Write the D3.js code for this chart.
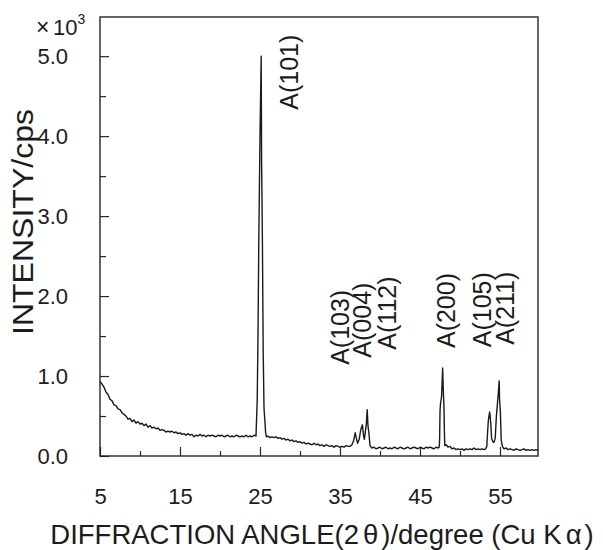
<!DOCTYPE html>
<html>
<head>
<meta charset="utf-8">
<script src="https://cdn.jsdelivr.net/npm/d3@7"></script>
<style>
  body { margin: 0; background: #fff; }
  svg text { font-family: "Liberation Sans", Arial, sans-serif; fill: #1c1c1c; }
</style>
</head>
<body>
<div id="chart"></div>
<script>
// 2θ (degree) and intensity (x10^3 cps)
const scan = [
  [5.00, 0.93], [5.25, 0.90], [5.50, 0.86], [5.75, 0.80], [6.00, 0.77], [6.25, 0.71], [6.50, 0.69], [6.75, 0.64],
  [7.00, 0.63], [7.25, 0.59], [7.50, 0.58], [7.75, 0.54], [8.00, 0.52], [8.25, 0.50], [8.50, 0.46], [8.75, 0.47],
  [9.00, 0.43], [9.25, 0.45], [9.50, 0.41], [9.75, 0.43], [10.00, 0.40], [10.25, 0.41], [10.50, 0.38], [10.75, 0.40],
  [11.00, 0.36], [11.25, 0.38], [11.50, 0.35], [11.75, 0.36], [12.00, 0.34], [12.25, 0.35], [12.50, 0.32], [12.75, 0.33],
  [13.00, 0.32], [13.25, 0.30], [13.50, 0.31], [13.75, 0.30], [14.00, 0.31], [14.25, 0.29], [14.50, 0.30], [14.75, 0.28],
  [15.00, 0.29], [15.25, 0.27], [15.50, 0.28], [15.75, 0.26], [16.00, 0.28], [16.25, 0.26], [16.50, 0.27], [16.75, 0.24],
  [17.00, 0.26], [17.25, 0.25], [17.50, 0.27], [17.75, 0.25], [18.00, 0.26], [18.25, 0.24], [18.50, 0.26], [18.75, 0.25],
  [19.00, 0.26], [19.25, 0.25], [19.50, 0.24], [19.75, 0.26], [20.00, 0.25], [20.25, 0.26], [20.50, 0.24], [20.75, 0.25],
  [21.00, 0.26], [21.25, 0.24], [21.50, 0.25], [21.75, 0.24], [22.00, 0.26], [22.25, 0.25], [22.50, 0.24], [22.75, 0.25],
  [23.00, 0.24], [23.25, 0.26], [23.50, 0.24], [23.75, 0.25], [24.00, 0.24], [24.25, 0.26], [24.50, 0.25],
  // A(101)
  [24.60, 0.55], [24.65, 0.68], [24.75, 1.50], [24.85, 2.70], [25.00, 4.00], [25.15, 5.00], [25.20, 3.70], [25.30, 2.70],
  [25.40, 1.30], [25.50, 0.60], [25.60, 0.45], [25.70, 0.30], [25.80, 0.24],
  [26.00, 0.25], [26.25, 0.23], [26.50, 0.24], [26.75, 0.23], [27.00, 0.24], [27.25, 0.22], [27.50, 0.23], [27.75, 0.21],
  [28.00, 0.22], [28.25, 0.20], [28.50, 0.21], [28.75, 0.19], [29.00, 0.20], [29.25, 0.18], [29.50, 0.19], [29.75, 0.17],
  [30.00, 0.18], [30.25, 0.16], [30.50, 0.17], [30.75, 0.15], [31.00, 0.16], [31.25, 0.15], [31.50, 0.14], [31.75, 0.16],
  [32.00, 0.14], [32.25, 0.15], [32.50, 0.13], [32.75, 0.14], [33.00, 0.12], [33.25, 0.14], [33.50, 0.13], [33.75, 0.12],
  [34.00, 0.13], [34.25, 0.11], [34.50, 0.13], [34.75, 0.12], [35.00, 0.11], [35.25, 0.12], [35.50, 0.11], [35.75, 0.13],
  [36.00, 0.12], [36.25, 0.12], [36.50, 0.14],
  // A(103), A(004), A(112)
  [36.70, 0.19], [36.90, 0.29], [37.05, 0.22], [37.20, 0.16], [37.40, 0.21], [37.60, 0.33], [37.80, 0.39], [37.95, 0.25],
  [38.05, 0.21], [38.15, 0.29], [38.30, 0.41], [38.40, 0.58], [38.50, 0.37], [38.60, 0.30], [38.75, 0.13],
  [39.00, 0.10], [39.25, 0.11], [39.50, 0.09], [39.75, 0.10], [40.00, 0.11], [40.25, 0.09], [40.50, 0.10], [40.75, 0.11],
  [41.00, 0.09], [41.25, 0.10], [41.50, 0.09], [41.75, 0.11], [42.00, 0.10], [42.25, 0.09], [42.50, 0.11], [42.75, 0.10],
  [43.00, 0.09], [43.25, 0.10], [43.50, 0.11], [43.75, 0.09], [44.00, 0.10], [44.25, 0.11], [44.50, 0.10], [44.75, 0.09],
  [45.00, 0.11], [45.25, 0.10], [45.50, 0.09], [45.75, 0.11], [46.00, 0.10], [46.25, 0.11], [46.50, 0.10], [46.75, 0.09],
  [47.00, 0.11], [47.25, 0.10], [47.40, 0.11],
  // A(200)
  [47.45, 0.20], [47.50, 0.55], [47.55, 0.64], [47.70, 0.75], [47.83, 1.10], [47.90, 0.85], [48.00, 0.60], [48.05, 0.30],
  [48.10, 0.13], [48.30, 0.14], [48.50, 0.11],
  [48.75, 0.12], [49.00, 0.09], [49.25, 0.10], [49.50, 0.08], [49.75, 0.09], [50.00, 0.08], [50.25, 0.09], [50.50, 0.07],
  [50.75, 0.09], [51.00, 0.08], [51.25, 0.09], [51.50, 0.08], [51.75, 0.10], [52.00, 0.08], [52.25, 0.09], [52.50, 0.08],
  [52.75, 0.09], [53.00, 0.08], [53.20, 0.09],
  // A(105), A(211)
  [53.35, 0.12], [53.45, 0.30], [53.55, 0.45], [53.70, 0.55], [53.75, 0.52], [53.85, 0.40], [53.95, 0.22], [54.10, 0.18],
  [54.25, 0.17], [54.40, 0.22], [54.55, 0.50], [54.65, 0.62], [54.80, 0.80], [54.90, 0.94], [54.95, 0.70], [55.05, 0.55],
  [55.15, 0.20], [55.30, 0.12], [55.50, 0.09],
  [55.75, 0.10], [56.00, 0.08], [56.25, 0.09], [56.50, 0.08], [56.75, 0.07], [57.00, 0.09], [57.25, 0.08], [57.50, 0.07],
  [57.75, 0.08], [58.00, 0.09], [58.25, 0.07], [58.50, 0.08], [58.75, 0.07], [59.00, 0.08], [59.25, 0.07], [59.50, 0.08],
  [59.75, 0.07]
];

// peak labels: text, 2θ of label centre, intensity where the label starts
const peakNames = ["A(101)", "A(103)", "A(004)", "A(112)", "A(200)", "A(105)", "A(211)"];
const peakAngle = [28.6, 35.0, 37.75, 40.9, 48.25, 52.75, 55.6];
const peakBase = [4.33, 1.14, 1.23, 1.33, 1.35, 1.36, 1.39];

const xMajor = [5, 15, 25, 35, 45, 55];
const xMinor = [10, 20, 30, 40, 50];
const yMajor = [0, 1, 2, 3, 4, 5];
const yMinor = [0.5, 1.5, 2.5, 3.5, 4.5];

const W = 603, H = 550;
const margin = { top: 17, right: 65, bottom: 94, left: 100 };
const width = W - margin.left - margin.right;
const height = H - margin.top - margin.bottom;
const ink = "#262626";

const svg = d3.select("#chart").append("svg").attr("width", W).attr("height", H);
const g = svg.append("g").attr("transform", `translate(${margin.left},${margin.top})`);

const x = d3.scaleLinear().domain([5, 59.75]).range([0, width]);
const y = d3.scaleLinear().domain([0, 5.49]).range([height, 0]);

// ticks point inward
g.append("g")
  .attr("transform", `translate(0,${height})`)
  .call(d3.axisBottom(x).tickValues(xMinor).tickSize(-5).tickFormat(""));
g.append("g")
  .attr("class", "x-axis")
  .attr("transform", `translate(0,${height})`)
  .call(d3.axisBottom(x).tickValues(xMajor).tickSizeInner(-9).tickSizeOuter(0).tickPadding(32).tickFormat(d3.format("d")));
g.append("g")
  .call(d3.axisLeft(y).tickValues(yMinor).tickSize(-6).tickFormat(""));
g.append("g")
  .attr("class", "y-axis")
  .call(d3.axisLeft(y).tickValues(yMajor).tickSizeInner(-9).tickSizeOuter(0).tickPadding(32).tickFormat(d3.format(".1f")));

g.selectAll(".domain").remove();
g.selectAll(".tick line").attr("stroke", ink).attr("stroke-width", 1.2);
g.selectAll(".tick text").style("font-size", "22px").attr("fill", ink);

// frame
g.append("rect")
  .attr("width", width).attr("height", height)
  .attr("fill", "none").attr("stroke", ink).attr("stroke-width", 1.4);

const line = d3.line().x((d) => x(d[0])).y((d) => y(d[1]));
g.append("path")
  .datum(scan)
  .attr("fill", "none")
  .attr("stroke", "#1a1a1a")
  .attr("stroke-width", 1.4)
  .attr("stroke-linejoin", "round")
  .attr("d", line);

g.selectAll(".peak")
  .data(peakNames)
  .enter()
  .append("text")
  .attr("class", "peak")
  .attr("transform", (d, i) => `translate(${x(peakAngle[i])},${y(peakBase[i])}) rotate(-90)`)
  .attr("dy", "0.36em")
  .style("font-size", "25px")
  .text((d) => d);

// multiplier
svg.append("text").attr("x", 36).attr("y", 35).style("font-size", "23px").text("×");
const mult = svg.append("text").attr("x", 53).attr("y", 35).style("font-size", "22px");
mult.append("tspan").text("10");
mult.append("tspan").attr("dy", -11).style("font-size", "14px").text("3");

svg.append("text")
  .attr("transform", "translate(33,222) rotate(-90)")
  .attr("text-anchor", "middle")
  .attr("textLength", 226)
  .attr("lengthAdjust", "spacingAndGlyphs")
  .style("font-size", "29px")
  .text("INTENSITY/cps");

const xt = svg.append("text")
  .attr("x", 322)
  .attr("y", 544)
  .attr("text-anchor", "middle")
  .style("font-size", "27.5px");
xt.append("tspan").text("DIFFRACTION ANGLE(2");
xt.append("tspan").attr("dx", 4).text("θ");
xt.append("tspan").attr("dx", 3).text(")/degree (Cu K");
xt.append("tspan").attr("dx", 4).text("α");
xt.append("tspan").attr("dx", 3).text(")");
</script>
</body>
</html>
